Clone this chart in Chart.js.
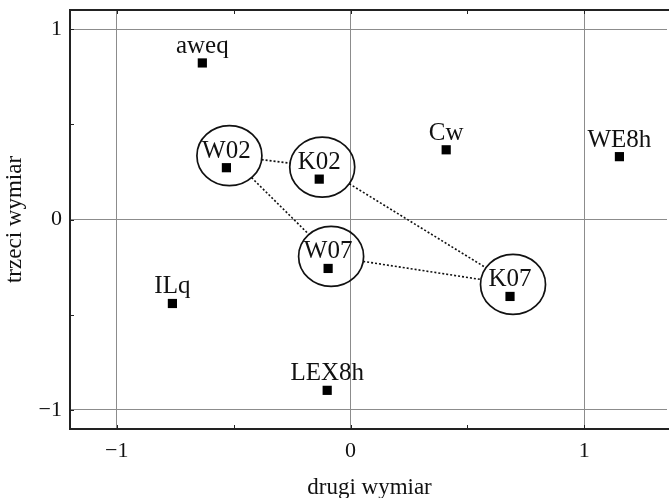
<!DOCTYPE html>
<html>
<head>
<meta charset="utf-8">
<script src="https://cdn.jsdelivr.net/npm/chart.js@4"></script>
<style>
  html, body { margin: 0; padding: 0; background: #fff; }
  canvas { display: block; }
</style>
</head>
<body>
<canvas id="chart" width="669" height="498"></canvas>
<script>
  const names = ["aweq", "W02", "K02", "Cw", "WE8h", "W07", "K07", "ILq", "LEX8h"];
  const dim2  = [-0.634, -0.531, -0.134, 0.409, 1.150, -0.096, 0.682, -0.762, -0.100];
  const dim3  = [0.822, 0.272, 0.212, 0.366, 0.330, -0.257, -0.404, -0.441, -0.897];
  const circled = ["W02", "K02", "W07", "K07"];
  const links = [["W02", "K02"], ["W02", "W07"], ["K02", "K07"], ["W07", "K07"]];
  const xTicks = [-1, 0, 1];
  const yTicks = [-1, 0, 1];
  const xMinor = [-1, -0.5, 0, 0.5, 1];
  const yMinor = [-1, -0.5, 0, 0.5, 1];

  const FONT = "'Liberation Serif', 'DejaVu Serif', serif";
  const fmt = v => v < 0 ? "\u2212" + Math.abs(v) : String(v);

  // top frame line + small inward ticks; the plot is open on the right
  const frame = {
    id: "frame",
    beforeDatasetsDraw(chart) {
      const { ctx, chartArea: a, scales: { x, y } } = chart;
      ctx.save();
      ctx.fillStyle = "#222";
      ctx.fillRect(a.left - 1, a.top - 1, a.right - a.left + 1, 2);
      xMinor.forEach(v => {
        const px = Math.round(x.getPixelForValue(v));
        ctx.fillRect(px, a.bottom - 4, 1, 4);
        ctx.fillRect(px, a.top, 1, 4);
      });
      yMinor.forEach(v => {
        const py = Math.round(y.getPixelForValue(v));
        ctx.fillRect(a.left, py, 4, 1);
      });
      ctx.restore();
    },
    afterDraw(chart) {
      const { ctx, chartArea: a } = chart;
      ctx.save();
      ctx.fillStyle = "#fff";
      ctx.fillRect(a.right - 2, a.top + 1, 2, a.bottom - a.top - 2);
      ctx.restore();
    }
  };

  // circles, dotted links, point labels
  const marks = {
    id: "marks",
    afterDatasetsDraw(chart) {
      const { ctx } = chart;
      const meta = chart.getDatasetMeta(0);
      const pos = {};
      names.forEach((n, i) => { pos[n] = { x: meta.data[i].x, y: meta.data[i].y }; });
      const rx = 32.5, ry = 30, dx = 3, dy = -12;
      const centre = n => ({ x: pos[n].x + dx, y: pos[n].y + dy });

      ctx.save();
      ctx.strokeStyle = "#111";
      ctx.lineWidth = 1.6;
      ctx.setLineDash([2, 2]);
      links.forEach(([p, q]) => {
        const s = centre(p), e = centre(q);
        const ang = Math.atan2(e.y - s.y, e.x - s.x);
        const ca = Math.cos(ang), sa = Math.sin(ang);
        const r = 1 / Math.sqrt((ca * ca) / (rx * rx) + (sa * sa) / (ry * ry));
        ctx.beginPath();
        ctx.moveTo(s.x + r * ca, s.y + r * sa);
        ctx.lineTo(e.x - r * ca, e.y - r * sa);
        ctx.stroke();
      });
      ctx.setLineDash([]);

      ctx.lineWidth = 1.7;
      circled.forEach(n => {
        const c = centre(n);
        ctx.beginPath();
        ctx.ellipse(c.x, c.y, rx, ry, 0, 0, Math.PI * 2);
        ctx.closePath();
        ctx.stroke();
      });

      ctx.fillStyle = "#111";
      ctx.font = "25px " + FONT;
      ctx.textAlign = "center";
      ctx.textBaseline = "alphabetic";
      names.forEach(n => ctx.fillText(n, pos[n].x, pos[n].y - 10));
      ctx.restore();
    }
  };

  new Chart(document.getElementById("chart"), {
    type: "scatter",
    data: {
      datasets: [{
        data: names.map((n, i) => ({ x: dim2[i], y: dim3[i] })),
        pointStyle: "rect",
        pointRadius: 6.5,
        pointHoverRadius: 6.5,
        backgroundColor: "#000",
        borderWidth: 0
      }]
    },
    options: {
      responsive: false,
      animation: false,
      layout: { autoPadding: false, padding: { top: 10, right: 0, left: 0, bottom: 0 } },
      plugins: { legend: { display: false }, tooltip: { enabled: false } },
      scales: {
        x: {
          type: "linear",
          min: -1.2,
          max: 1.362,
          afterBuildTicks: s => { s.ticks = xTicks.map(v => ({ value: v })); },
          afterFit: s => { s.height = 69; s.paddingLeft = 0; s.paddingRight = 0; },
          grid: { color: "#8c8c8c", lineWidth: 1, drawTicks: false },
          border: { display: true, color: "#222", width: 2 },
          ticks: {
            padding: 9,
            color: "#111",
            font: { family: FONT, size: 22 },
            callback: v => fmt(v)
          },
          title: {
            display: true,
            text: "drugi wymiar",
            color: "#111",
            font: { family: FONT, size: 23 },
            padding: { top: 0, bottom: -4 }
          }
        },
        y: {
          type: "linear",
          min: -1.1,
          max: 1.1,
          afterBuildTicks: s => { s.ticks = yTicks.map(v => ({ value: v })); },
          afterFit: s => { s.width = 70; s.paddingTop = 0; s.paddingBottom = 0; },
          grid: { color: "#8c8c8c", lineWidth: 1, drawTicks: false },
          border: { display: true, color: "#222", width: 2 },
          ticks: {
            padding: 8,
            color: "#111",
            font: { family: FONT, size: 22 },
            callback: v => fmt(v)
          },
          title: {
            display: true,
            text: "trzeci wymiar",
            color: "#111",
            font: { family: FONT, size: 23 },
            padding: { top: 1.5, bottom: 0 }
          }
        }
      }
    },
    plugins: [frame, marks]
  });
</script>
</body>
</html>
